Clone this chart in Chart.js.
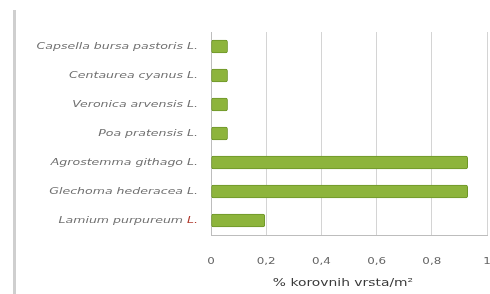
<!DOCTYPE html>
<html>
<head>
<meta charset="utf-8">
<script src="https://cdn.jsdelivr.net/npm/chart.js@4.4.1/dist/chart.umd.min.js"></script>
<style>
  html, body { margin: 0; padding: 0; background: #fff; }
  #wrap { position: relative; width: 490px; height: 294px; }
  #frame { position: absolute; left: 13px; top: 10px; width: 3px; height: 284px; background: #cfcfcf; }
  canvas { position: absolute; left: 0; top: 0; }
</style>
</head>
<body>
<div id="wrap">
  <div id="frame"></div>
  <canvas id="chart" width="490" height="294"></canvas>
</div>
<script>
// podaci
const species = ['Capsella bursa pastoris', 'Centaurea cyanus', 'Veronica arvensis', 'Poa pratensis',
                 'Agrostemma githago', 'Glechoma hederacea', 'Lamium purpureum'];
const authors = ['L.', 'L.', 'L.', 'L.', 'L.', 'L.', 'L.'];
const values = [0.06, 0.06, 0.06, 0.06, 0.93, 0.93, 0.195];
const xTicks = [0, 0.2, 0.4, 0.6, 0.8, 1];
const xTitle = '% korovnih vrsta/m²';

const FONT = '"DejaVu Sans", Verdana, sans-serif';
const SX = 1.32; // slika je vodoravno razvučena

function wideText(ctx, text, x, y, align) {
    ctx.save();
    ctx.translate(x, y);
    ctx.scale(SX, 1);
    ctx.textAlign = align;
    ctx.fillText(text, 0, 0);
    ctx.restore();
}

// svi natpisi: nazivi vrsta (L. kod Lamium crveno), oznake osi x i naslov
const labels = {
    id: 'labels',
    afterDraw(chart) {
        const ctx = chart.ctx;
        const x = chart.scales.x;
        const y = chart.scales.y;
        ctx.save();
        ctx.textBaseline = 'middle';

        ctx.font = 'italic 9.5px ' + FONT;
        const right = 198;
        species.forEach((name, i) => {
            const py = y.getPixelForValue(i);
            const auth = ' ' + authors[i];
            const aw = ctx.measureText(auth).width * SX;
            ctx.fillStyle = i === species.length - 1 ? '#b03a2e' : '#707070';
            wideText(ctx, auth, right, py, 'right');
            ctx.fillStyle = '#707070';
            wideText(ctx, name, right - aw, py, 'right');
        });

        ctx.font = '9px ' + FONT;
        ctx.fillStyle = '#666';
        xTicks.forEach(v => {
            wideText(ctx, String(v).replace('.', ','), x.getPixelForValue(v), 262, 'center');
        });

        ctx.font = '10.5px ' + FONT;
        ctx.fillStyle = '#3a3a3a';
        wideText(ctx, xTitle, (x.left + x.right) / 2 - 6, 283, 'center');
        ctx.restore();
    }
};

new Chart(document.getElementById('chart').getContext('2d'), {
    type: 'bar',
    data: {
        labels: species,
        datasets: [{
            data: values,
            backgroundColor: '#8db43c',
            borderColor: '#6e9628',
            borderWidth: 1,
            borderRadius: 2,
            borderSkipped: false,
            barThickness: 13
        }]
    },
    options: {
        indexAxis: 'y',
        responsive: false,
        animation: false,
        layout: { padding: { top: 32, right: 3, left: 0, bottom: 5 } },
        plugins: { legend: { display: false }, tooltip: { enabled: false } },
        scales: {
            x: {
                min: 0, max: 1,
                afterBuildTicks: s => { s.ticks = xTicks.map(v => ({ value: v })); },
                grid: { color: '#d4d4d4', drawTicks: false },
                border: { color: '#bdbdbd' },
                ticks: { display: false },
                afterFit: s => { s.height = 54; s.paddingRight = 0; s.paddingLeft = 0; }
            },
            y: {
                grid: { display: false },
                border: { color: '#bdbdbd' },
                ticks: { display: false },
                afterFit: s => { s.width = 211; }
            }
        }
    },
    plugins: [labels]
});
</script>
</body>
</html>
